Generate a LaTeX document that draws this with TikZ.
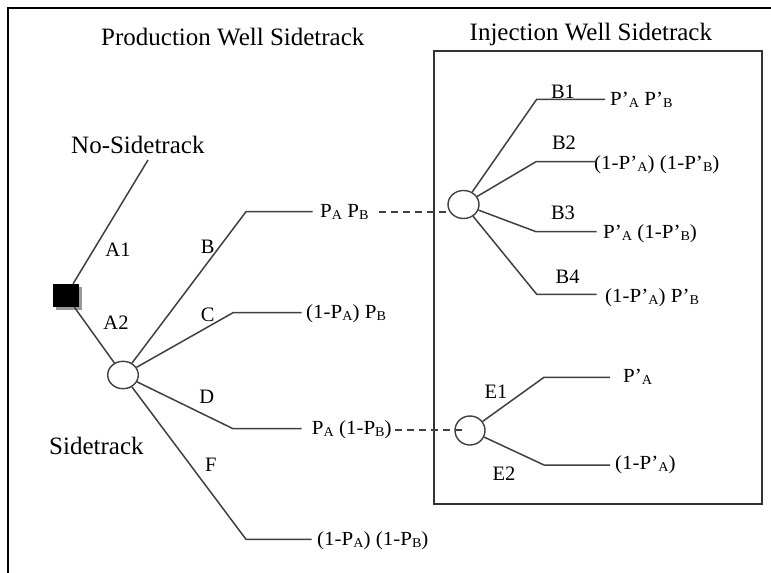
\documentclass[tikz,border=0pt]{standalone}
\usepackage{fontspec}
\setmainfont{Liberation Serif}
\newfontfamily\pfont[FakeStretch=1.05]{Liberation Serif}
\usetikzlibrary{shapes.geometric,shadows,calc}
\newcommand{\lsub}[1]{\raisebox{-2bp}{\fontsize{13.5bp}{14bp}\selectfont #1}}
\begin{document}
\begin{tikzpicture}[x=1bp,y=-1bp,
  conn/.style={draw=black!75, line width=1.5bp},
  chance/.style={ellipse, draw=black!75, line width=1.4bp, fill=white, inner sep=0pt},
  big/.style={font=\fontsize{25bp}{30bp}\selectfont, inner sep=0pt, anchor=base west},
  lett/.style={font=\fontsize{20.5bp}{24bp}\selectfont, inner sep=0pt},
  prob/.style={font=\pfont\fontsize{20bp}{24bp}\selectfont, inner sep=0pt, anchor=base west},
  dsh/.style={conn, line width=1.7bp, dash pattern=on 7bp off 5bp}]
\useasboundingbox (0,0) rectangle (771,573);
\fill[white] (0,0) rectangle (771,573);
% frames
\draw[line width=2bp] (8,573) -- (8,8) -- (771,8);
\draw[draw=black!80, line width=1.6bp] (434,51) rectangle (762,504);
% decision and chance nodes
\node[fill=black, minimum width=26bp, minimum height=23bp, inner sep=0pt,
  drop shadow={shadow xshift=2.5bp, shadow yshift=-2.5bp, fill=black!40, opacity=1}] (sq) at (66,295.5) {};
\node[chance, minimum width=30.6bp, minimum height=27.4bp] (c1) at (123,375) {};
\node[chance, minimum width=31bp, minimum height=28bp] (c2) at (463.5,204.5) {};
\node[chance, minimum width=30bp, minimum height=29bp] (c3) at (470,430.5) {};
% titles
\node[big] (tprod) at (101,45.5) {Production Well Sidetrack};
\node[big] (tinj) at (469.5,40.5) {Injection Well Sidetrack};
\node[big] (tns) at (71,154) {No-Sidetrack};
\node[big] (tst) at (49,454) {Sidetrack};
% branch letters
\node[lett] (lA1) at (118,250) {A1};
\node[lett] (lA2) at (116,323) {A2};
\node[lett] (lB) at (207.7,246.7) {B};
\node[lett] (lC) at (207.7,315) {C};
\node[lett] (lD) at (206.7,397.3) {D};
\node[lett] (lF) at (210.7,465) {F};
\node[lett] (lB1) at (563,91.7) {B1};
\node[lett] (lB2) at (564,143) {B2};
\node[lett] (lB3) at (563,213) {B3};
\node[lett] (lB4) at (567.7,276.7) {B4};
\node[lett] (lE1) at (496,391.7) {E1};
\node[lett] (lE2) at (504,473.3) {E2};
% probability labels
\node[prob] (pab) at (320,217.7) {P\lsub{A} P\lsub{B}};
\node[prob] (pc) at (306,318.7) {(1-P\lsub{A}) P\lsub{B}};
\node[prob] (pd) at (311.7,434.7) {P\lsub{A} (1-P\lsub{B})};
\node[prob] (pf) at (317,545.3) {(1-P\lsub{A}) (1-P\lsub{B})};
\node[prob] (pb1) at (610,106) {P’\lsub{A} P’\lsub{B}};
\node[prob] (pb2) at (594,170) {(1-P’\lsub{A}) (1-P’\lsub{B})};
\node[prob] (pb3) at (603,238.5) {P’\lsub{A} (1-P’\lsub{B})};
\node[prob] (pb4) at (605,302) {(1-P’\lsub{A}) P’\lsub{B}};
\node[prob] (pe1) at (623,382) {P’\lsub{A}};
\node[prob] (pe2) at (615,469) {(1-P’\lsub{A})};
% branch coordinates
\coordinate (ns) at (148,160);
\coordinate (bk) at (246,211.7);   \coordinate (be) at (312.7,211.7);
\coordinate (ck) at (233,312.7);   \coordinate (ce) at (301.7,312.7);
\coordinate (dk) at (233,428.7);   \coordinate (de) at (301.7,428.7);
\coordinate (fk) at (246,539.3);   \coordinate (fe) at (311.7,539.3);
\coordinate (b1k) at (536.7,99.3); \coordinate (b1e) at (605,99.3);
\coordinate (b2k) at (536,161.7);  \coordinate (b2e) at (596.7,161.7);
\coordinate (b3k) at (536,231.7);  \coordinate (b3e) at (596.7,231.7);
\coordinate (b4k) at (536.7,294.3);\coordinate (b4e) at (596.7,294.3);
\coordinate (e1k) at (544,377.3);  \coordinate (e1e) at (610,377.3);
\coordinate (e2k) at (544,465);    \coordinate (e2e) at (610,465);
% connectors
\draw[conn] (sq) -- (ns);
\draw[conn] (sq) -- (c1);
\draw[conn] (c1) -- (bk) -- (be);
\draw[conn] (c1) -- (ck) -- (ce);
\draw[conn] (c1) -- (dk) -- (de);
\draw[conn] (c1) -- (fk) -- (fe);
\draw[conn] (c2) -- (b1k) -- (b1e);
\draw[conn] (c2) -- (b2k) -- (b2e);
\draw[conn] (c2) -- (b3k) -- (b3e);
\draw[conn] (c2) -- (b4k) -- (b4e);
\draw[conn] (c3) -- (e1k) -- (e1e);
\draw[conn] (c3) -- (e2k) -- (e2e);
\draw[dsh, shorten <=10bp] (pab.east) -- (pab.east -| c2.west);
\draw[dsh, shorten <=3bp] (pd.east) -- ($(pd.east -| c3.west)+(8,0)$);
\end{tikzpicture}
\end{document}
